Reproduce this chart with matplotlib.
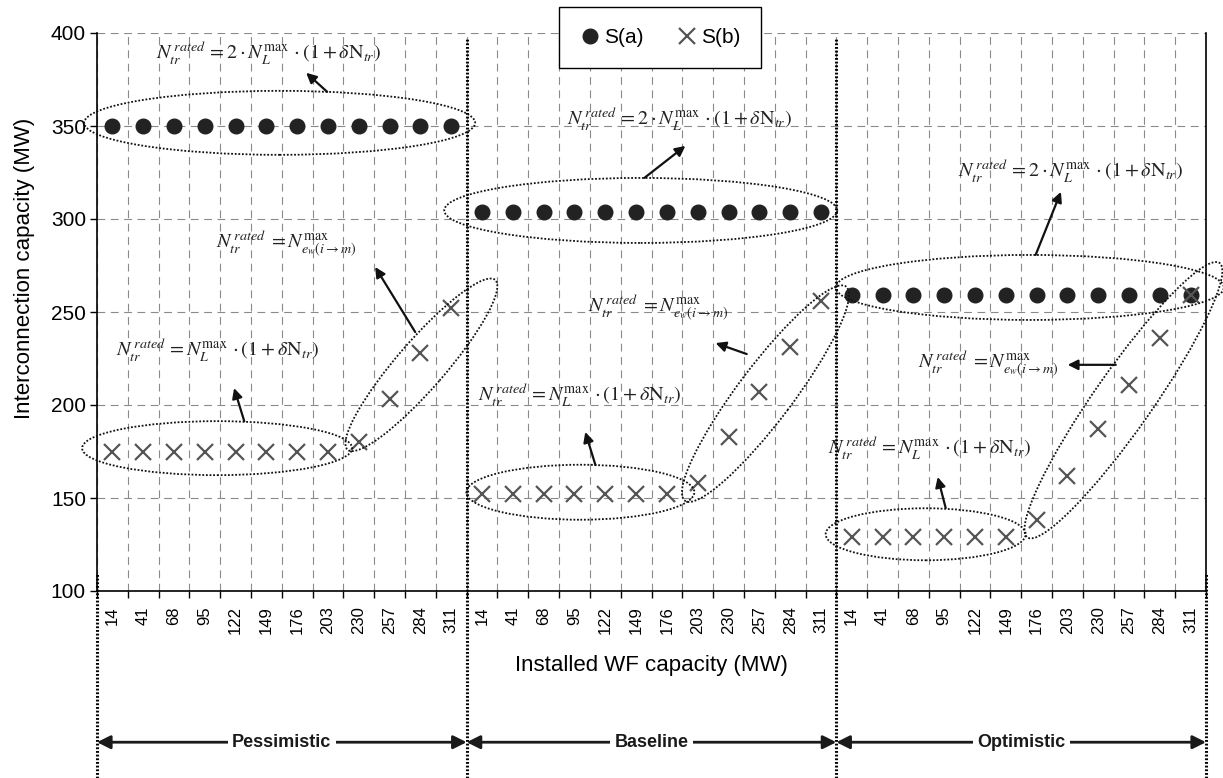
import numpy as np
import matplotlib
matplotlib.use("Agg")
import matplotlib.pyplot as plt
import matplotlib.transforms as mtransforms
from matplotlib.patches import Ellipse

plt.rcParams["font.family"] = ["Liberation Sans", "DejaVu Sans"]
plt.rcParams["mathtext.fontset"] = "stix"

# installed WF capacity (MW), repeated for each scenario
WF_CAPACITY = [14, 41, 68, 95, 122, 149, 176, 203, 230, 257, 284, 311]
SCENARIOS = ["Pessimistic", "Baseline", "Optimistic"]

# S(a): interconnection capacity (MW)
SA_PESSIMISTIC = [350, 350, 350, 350, 350, 350, 350, 350, 350, 350, 350, 350]
SA_BASELINE = [304, 304, 304, 304, 304, 304, 304, 304, 304, 304, 304, 304]
SA_OPTIMISTIC = [259, 259, 259, 259, 259, 259, 259, 259, 259, 259, 259, 259]

# S(b): interconnection capacity (MW)
SB_PESSIMISTIC = [175, 175, 175, 175, 175, 175, 175, 175, 180, 203, 228, 252]
SB_BASELINE = [152, 152, 152, 152, 152, 152, 152, 158, 183, 207, 231, 256]
SB_OPTIMISTIC = [129, 129, 129, 129, 129, 129, 138, 162, 187, 211, 236, 259]

W, H = 1223, 778
fig = plt.figure(figsize=(W / 100, H / 100), dpi=100)
ax = fig.add_axes([97 / W, 1 - 591 / H, (1206 - 97) / W, (591 - 33) / H])

sa = SA_PESSIMISTIC + SA_BASELINE + SA_OPTIMISTIC
sb = SB_PESSIMISTIC + SB_BASELINE + SB_OPTIMISTIC
labels = [str(v) for v in WF_CAPACITY] * len(SCENARIOS)
x = np.arange(len(labels))
n_grp = len(WF_CAPACITY)

ax.plot(x, sa, ls="none", marker="o", ms=10.5, color="#222222", label="S(a)", zorder=4)
ax.plot(x, sb, ls="none", marker="x", ms=11.5, mew=1.6, color="#555555", label="S(b)", zorder=5)

ax.set_xlim(-0.5, len(labels) - 0.5)
ax.set_ylim(100, 400)
ax.set_yticks(np.arange(100, 401, 50))
ax.set_xticks(np.arange(-0.5, len(labels), 1))
ax.set_xticklabels([])
ax.set_xticks(x, minor=True)
ax.set_xticklabels(labels, minor=True, rotation=90, fontsize=12)
ax.tick_params(axis="x", which="major", direction="out", length=5, width=1)
ax.tick_params(axis="x", which="minor", length=0, pad=11)
ax.tick_params(axis="y", direction="out", length=5, width=1, labelsize=15, pad=3)
ax.grid(True, which="major", color="#8a8a8a", lw=0.8, ls=(0, (7, 5)))
ax.spines["top"].set_visible(False)
for s in ("left", "bottom", "right"):
    ax.spines[s].set_linewidth(1.2)

fig.text(25 / W, 1 - 268 / H, "Interconnection capacity (MW)", rotation=90,
         fontsize=16, ha="center", va="center")
fig.text(651 / W, 1 - 665 / H, "Installed WF capacity (MW)", fontsize=16,
         ha="center", va="center")

leg = ax.legend(loc="upper left", bbox_to_anchor=(559 / W, 1 - 7 / H),
                bbox_transform=fig.transFigure, ncol=2, fontsize=15,
                handlelength=1.0, handletextpad=0.15, columnspacing=1.6,
                borderpad=1.0, borderaxespad=0, fancybox=False, framealpha=1,
                edgecolor="black")
leg.get_frame().set_linewidth(1.0)
leg.set_zorder(10)

# scenario separators, dotted, running below the axes
sep = mtransforms.blended_transform_factory(ax.transData, fig.transFigure)
for b in range(n_grp, len(labels), n_grp):
    ax.plot([b - 0.5, b - 0.5], [0.0, 0.95], transform=sep, color="black",
            lw=2.2, ls=(0, (0.6, 0.6)), clip_on=False, zorder=6)
for b in (-0.5, len(labels) - 0.5):
    ax.plot([b, b], [0.0, 0.262], transform=sep, color="black",
            lw=2.2, ls=(0, (0.6, 0.6)), clip_on=False, zorder=6)

# scenario arrows at the bottom
for i, name in enumerate(SCENARIOS):
    x0, x1 = i * n_grp - 0.5, (i + 1) * n_grp - 0.5
    ax.annotate("", xy=(x1, 0.046), xytext=(x0, 0.046), xycoords=sep, textcoords=sep,
                arrowprops=dict(arrowstyle="<|-|>", color="#1a1a1a", lw=2,
                                mutation_scale=20, shrinkA=0, shrinkB=0),
                annotation_clip=False)
    ax.text((x0 + x1) / 2, 0.046, name, transform=sep, ha="center", va="center",
            fontsize=13, fontweight="bold", color="#1a1a1a",
            bbox=dict(boxstyle="square,pad=0.25", fc="white", ec="none"))

# formulas
F_2L = r"$N_{tr}^{\,rated}\,=2\cdot N_{L}^{\max}\,\cdot(1+\delta\mathrm{N}_{tr})$"
F_EW = r"$N_{tr}^{\,rated}\;=N_{e_w(i\rightarrow m)}^{\max}$"
F_L = r"$N_{tr}^{\,rated}\,=N_{L}^{\max}\,\cdot(1+\delta\mathrm{N}_{tr})$"
formulas = [
    (F_2L, 5.07, 388.9), (F_EW, 5.66, 286.9), (F_L, 3.42, 229.3),
    (F_2L, 18.40, 353.6), (F_EW, 17.71, 252.4), (F_L, 15.16, 205.3),
    (F_2L, 31.11, 325.4), (F_EW, 28.43, 222.3), (F_L, 26.53, 176.5),
]
for txt, fx, fy in formulas:
    ax.text(fx, fy, txt, fontsize=14.5, ha="center", va="center", color="#222222", zorder=7)

# arrows from ellipses to formulas (tail, head)
arrows = [
    ((6.97, 368.4), (6.29, 378.6)), ((9.83, 239.2), (8.53, 274.2)),
    ((4.28, 191.3), (3.95, 209.1)), ((17.27, 322.1), (18.60, 339.3)),
    ((20.59, 227.4), (19.58, 233.3)), ((15.68, 167.7), (15.35, 185.5)),
    ((29.97, 280.7), (30.79, 314.6)), ((32.57, 221.6), (31.01, 221.6)),
    ((27.05, 144.6), (26.79, 161.3)),
]
for tail, head in arrows:
    ax.annotate("", xy=head, xytext=tail,
                arrowprops=dict(arrowstyle="-|>", color="#111111", lw=1.6,
                                mutation_scale=15, shrinkA=0, shrinkB=0),
                zorder=7)

# dotted ellipses round the point groups: centre (data), size (px), angle
ellipses = [
    (5.43, 351.7, 391, 64, 0), (10.03, 221.6, 225, 48, 49), (3.40, 176.8, 270, 54, 0),
    (17.15, 304.6, 393, 65, 0), (21.20, 206.1, 268, 55, 53), (15.19, 153.1, 228, 55, 0),
    (29.78, 263.2, 388, 65, 0), (32.82, 202.6, 335, 58, 55), (26.40, 130.5, 200, 52, 0),
]
for cx, cy, w, h, ang in ellipses:
    tr = fig.dpi_scale_trans + mtransforms.ScaledTranslation(cx, cy, ax.transData)
    ax.add_patch(Ellipse((0, 0), w / 100, h / 100, angle=ang, transform=tr,
                         fill=False, ec="#111111", lw=1.3, ls=(0, (1, 1)),
                         clip_on=False, zorder=6))

fig.savefig("out.png", dpi=100)
